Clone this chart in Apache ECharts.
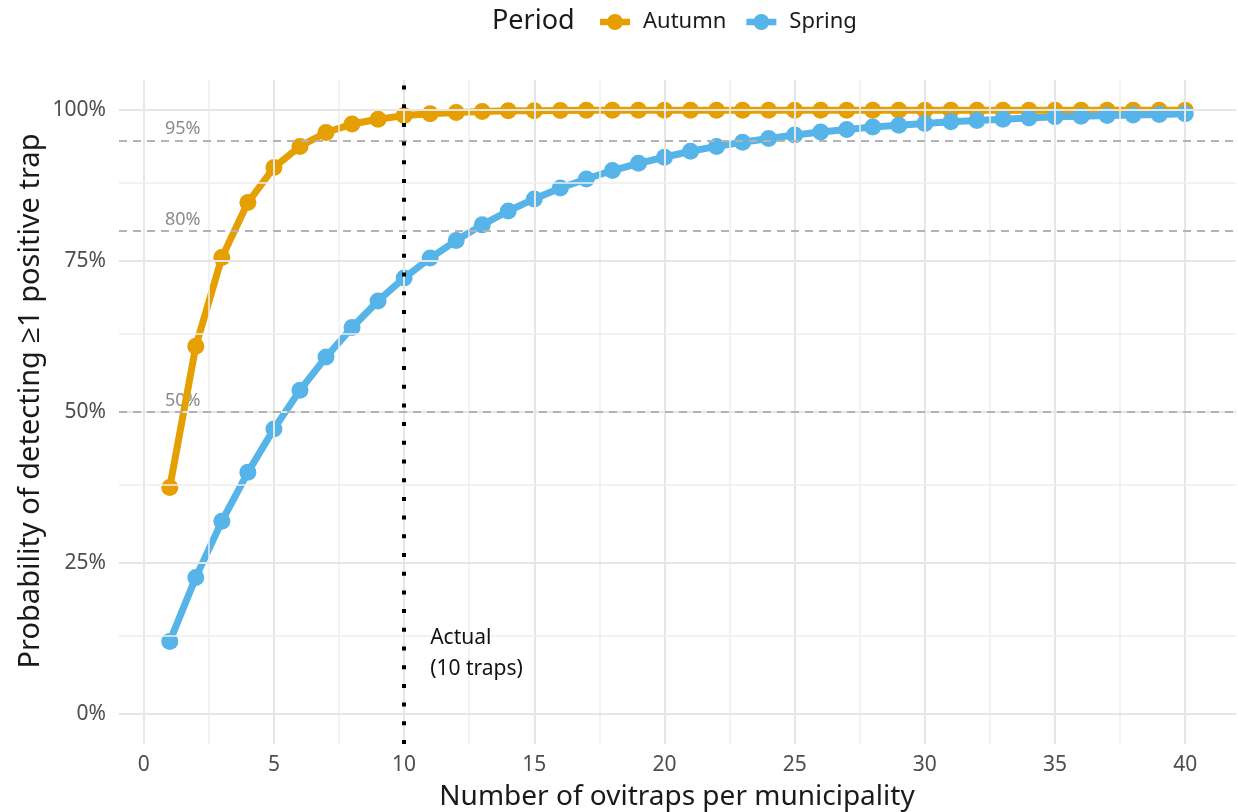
<!DOCTYPE html>
<html>
<head>
<meta charset="utf-8">
<script src="https://cdn.jsdelivr.net/npm/echarts@6/dist/echarts.min.js"></script>
<style>
html,body{margin:0;padding:0;background:#fff;}
#chart{width:1238px;height:812px;}
</style>
</head>
<body>
<div id="chart"></div>
<script>
// ---- data ----
const traps = [1,2,3,4,5,6,7,8,9,10,11,12,13,14,15,16,17,18,19,20,21,22,23,24,25,26,27,28,29,30,31,32,33,34,35,36,37,38,39,40];
const autumn = [0.375,0.609,0.756,0.847,0.905,0.940,0.963,0.977,0.985,0.991,0.994,0.996,0.998,0.999,0.999,0.9995,0.9997,0.9998,0.9999,0.9999,1,1,1,1,1,1,1,1,1,1,1,1,1,1,1,1,1,1,1,1];
const spring = [0.120,0.226,0.319,0.400,0.472,0.536,0.591,0.640,0.684,0.722,0.755,0.784,0.810,0.833,0.853,0.871,0.886,0.900,0.912,0.922,0.932,0.940,0.947,0.953,0.959,0.964,0.968,0.972,0.975,0.978,0.981,0.983,0.985,0.987,0.989,0.990,0.991,0.992,0.993,0.994];
const seriesNames = ['Autumn','Spring'];
const refLevels = [0.5, 0.8, 0.95];
const refLabels = ['50%','80%','95%'];
const refLabelX = 1.5;
const actualTraps = 10;
const annotationPos = [11, 0.1];
const annotationText = 'Actual\n(10 traps)';
const xTicks = [0,5,10,15,20,25,30,35,40];
const xMinor = [2.5,7.5,12.5,17.5,22.5,27.5,32.5,37.5];
const yTicks = [0,0.25,0.5,0.75,1];
const yMinor = [0.125,0.375,0.625,0.875];
const xTitle = 'Number of ovitraps per municipality';
const yTitle = 'Probability of detecting ≥1 positive trap';
const legendTitle = 'Period';

// ---- chart ----
const FONT = '"Noto Sans", "Open Sans", sans-serif';
const colors = ['#E69F00', '#56B4E9'];
const chart = echarts.init(document.getElementById('chart'), null, {renderer: 'canvas'});

const gridLines = [];
xTicks.forEach(v => gridLines.push({xAxis: v, lineStyle: {color: '#e6e6e6', width: 2, type: 'solid'}}));
xMinor.forEach(v => gridLines.push({xAxis: v, lineStyle: {color: '#eeeeee', width: 1.5, type: 'solid'}}));
yTicks.forEach(v => gridLines.push({yAxis: v, lineStyle: {color: '#e6e6e6', width: 2, type: 'solid'}}));
yMinor.forEach(v => gridLines.push({yAxis: v, lineStyle: {color: '#eeeeee', width: 1.5, type: 'solid'}}));

const refLineData = refLevels.map(v => ({yAxis: v, lineStyle: {color: '#b3b3b3', width: 2, type: [8, 6]}}));

// legend icon: thick line with a round point in the middle
const legendIcon = 'path://M0,5 L32,5 L32,12 L0,12 Z M7.5,8.5 A8.5,8.5 0 1,1 24.5,8.5 A8.5,8.5 0 1,1 7.5,8.5 Z';

function lineSeries(idx, values, z) {
  return {
    name: seriesNames[idx], type: 'line', z: z,
    data: traps.map((t, i) => [t, values[i]]),
    color: colors[idx],
    lineStyle: {width: 7, color: colors[idx], cap: 'round', join: 'round'},
    itemStyle: {color: colors[idx], borderWidth: 0, borderColor: colors[idx]},
    symbol: 'circle', symbolSize: 17, showSymbol: true,
    emphasis: {disabled: true}
  };
}

const option = {
  animation: false,
  backgroundColor: '#ffffff',
  grid: {left: 119, right: 2, top: 80, bottom: 68, containLabel: false, outerBoundsMode: 'none'},
  xAxis: {
    type: 'value', min: -0.95, max: 41.95,
    axisLine: {show: false}, axisTick: {show: false}, splitLine: {show: false},
    axisLabel: {customValues: xTicks, color: '#4d4d4d', fontSize: 21, fontFamily: FONT, margin: 11}
  },
  yAxis: {
    type: 'value', min: -0.05, max: 1.05,
    axisLine: {show: false}, axisTick: {show: false}, splitLine: {show: false},
    axisLabel: {customValues: yTicks, color: '#4d4d4d', fontSize: 21, fontFamily: FONT, margin: 13,
      formatter: v => Math.round(v * 100) + '%'}
  },
  legend: {
    data: seriesNames.map(n => ({name: n, icon: legendIcon})),
    left: 595, top: 6,
    itemWidth: 30, itemHeight: 17, itemGap: 20,
    textStyle: {fontSize: 22, fontFamily: FONT, color: '#1a1a1a', padding: [0, 0, 0, 8]}
  },
  graphic: [
    {type: 'text', x: 492, y: 21, style: {text: legendTitle, fontSize: 27, fontFamily: FONT, fill: '#1a1a1a', verticalAlign: 'middle'}},
    {type: 'text', x: 677, y: 797, style: {text: xTitle, fontSize: 28, fontFamily: FONT, fill: '#1a1a1a', align: 'center', verticalAlign: 'middle'}},
    {type: 'text', x: 31, y: 401, rotation: Math.PI / 2, style: {text: yTitle, fontSize: 29, fontFamily: FONT, fill: '#1a1a1a', align: 'center', verticalAlign: 'middle'}}
  ],
  series: [
    {
      name: '_grid', type: 'line', data: [], silent: true, z: 0,
      markLine: {silent: true, symbol: 'none', label: {show: false}, animation: false, data: gridLines}
    },
    {
      name: '_ref', type: 'scatter', silent: true, z: 1, symbolSize: 0,
      data: refLevels.map((v, i) => ({value: [refLabelX, v], label: {formatter: refLabels[i]}})),
      label: {show: true, position: 'top', distance: 2, color: '#6e6e6e', fontSize: 18, fontFamily: FONT},
      markLine: {silent: true, symbol: 'none', label: {show: false}, animation: false, data: refLineData}
    },
    lineSeries(0, autumn, 3),
    lineSeries(1, spring, 4),
    {
      name: '_actual', type: 'scatter', silent: true, z: 5, symbolSize: 0,
      data: [{value: annotationPos}],
      label: {show: true, position: [0, 0], align: 'left', verticalAlign: 'middle', formatter: annotationText,
        color: '#111111', fontSize: 21, lineHeight: 31, fontFamily: FONT, opacity: 1},
      markLine: {silent: true, symbol: 'none', label: {show: false}, animation: false,
        data: [{xAxis: actualTraps, lineStyle: {color: '#000000', width: 4, type: [4, 14.7], cap: 'butt'}}]}
    }
  ]
};
chart.setOption(option);
</script>
</body>
</html>
